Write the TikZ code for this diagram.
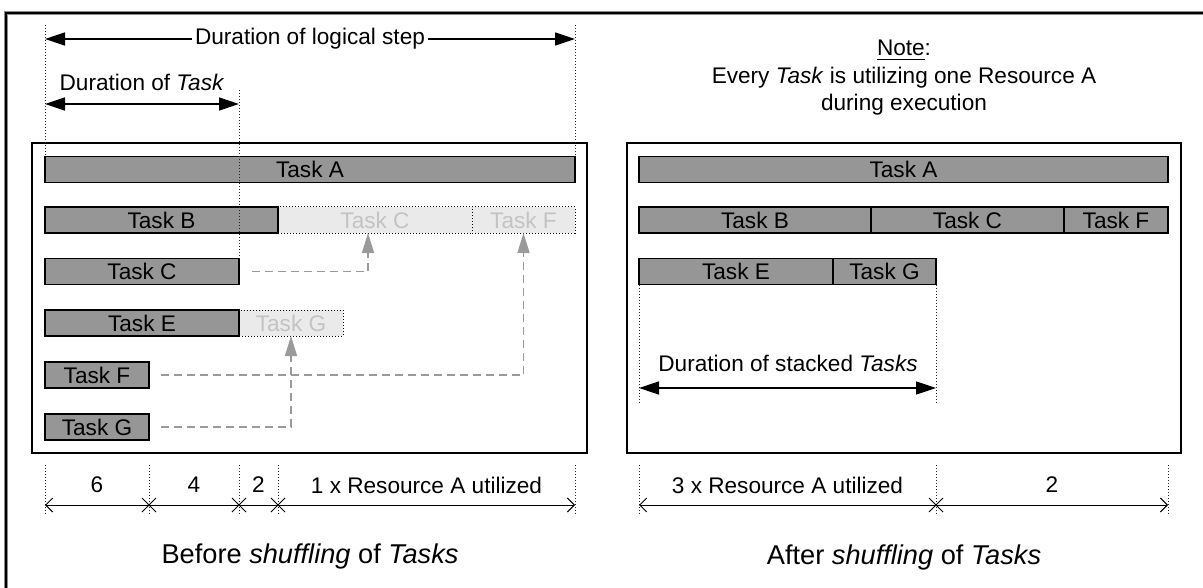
\documentclass[tikz,border=0pt]{standalone}
\usepackage{fontspec}
\setmainfont{Liberation Sans}
\usetikzlibrary{arrows.meta,calc,shapes.misc}
\definecolor{barfill}{HTML}{969696}
\definecolor{ghostfill}{HTML}{EAEAEA}
\definecolor{ghosttext}{HTML}{C3C3C3}
\definecolor{linkgray}{HTML}{9A9A9A}
\definecolor{framegray}{HTML}{8C8C8C}
\tikzset{
  bar/.style={draw=black, line width=0.75pt, fill=barfill, minimum height=13pt, inner sep=0pt, outer sep=0pt},
  ghost/.style={draw=black, line width=0.5pt, dash pattern=on 0.5pt off 1pt, fill=ghostfill, text=ghosttext, minimum height=13pt, inner sep=0pt, outer sep=0pt},
  panel/.style={draw=black, line width=1.2pt},
  guide/.style={draw=black!85, line width=0.5pt, dash pattern=on 0.5pt off 1pt},
  span/.style={draw=black, line width=0.75pt, {Triangle[length=10pt,width=6.5pt]}-{Triangle[length=10pt,width=6.5pt]}},
  link/.style={draw=linkgray, line width=0.75pt, dash pattern=on 4pt off 2.5pt, -{Triangle[length=10pt,width=6pt,fill=linkgray]}},
  ruler/.style={draw=black, line width=0.5pt, {Straight Barb[length=3.5pt,width=7pt]}-{Straight Barb[length=3.5pt,width=7pt]}},
  tick/.style={draw=black, line width=0.5pt, cross out, minimum size=6.5pt, inner sep=0pt},
  lbl/.style={inner sep=0pt},
  title/.style={font=\fontsize{13.6}{16}\selectfont},
}
\begin{document}
\begin{tikzpicture}[x=0.5pt, y=-0.5pt, font=\fontsize{11.3}{13.75}\selectfont]
\useasboundingbox (0,0) rectangle (1203,588);

% outer frame edge
\draw[line width=2pt, framegray] (6,600) -- (6,13) -- (1210,13);
\draw[line width=1pt, black] (6,600) -- (6,13) -- (1210,13);

% horizontal levels used by guides and rulers
\coordinate (y25) at (0,25);
\coordinate (y39) at (0,39);
\coordinate (y90) at (0,90);
\coordinate (y104) at (0,104);
\coordinate (y388) at (0,388);
\coordinate (y402) at (0,402);
\coordinate (y465) at (0,465);
\coordinate (y485) at (0,485);
\coordinate (y505) at (0,505);
\coordinate (y515) at (0,515);

% ---------------- left panel: before shuffling ----------------
\draw[panel] (32,143) rectangle (587,453);

\node[ghost, minimum width=97pt]   (gC) at (375,220)   {Task C};
\node[ghost, minimum width=51.5pt] (gF) at (523.5,220) {Task F};
\node[ghost, minimum width=52pt]   (gG) at (291,323)   {Task G};

\node[bar, minimum width=265pt]   (lA) at (310,169.5) {Task A};
\node[bar, minimum width=116.5pt] (lB) at (161.5,220) {Task B};
\node[bar, minimum width=97pt]    (lC) at (142,271.5) {Task C};
\node[bar, minimum width=97pt]    (lE) at (142,323)   {Task E};
\node[bar, minimum width=52pt]    (lF) at (97,375)    {Task F};
\node[bar, minimum width=52pt]    (lG) at (97,427)    {Task G};

% moves of the tasks into free slots
\coordinate (cC) at (368,0);
\draw[link] ([xshift=6.5pt]lC.east) -| (cC |- gC.south);
\draw[link] ([xshift=6pt]lF.east) -| (gF.south);
\draw[link] ([xshift=6pt]lG.east) -| (gG.south);

% guides above the bars
\draw[guide] (lA.north west |- y25) -- (lA.north west);
\draw[guide] (lA.north east |- y25) -- (lA.north east);
\draw[guide] (lC.north east |- y90) -- (lC.north east);

% duration spans
\coordinate (ls0) at (lA.west |- y39);
\coordinate (ls1) at (lA.east |- y39);
\draw[span] (ls0) -- (ls1) node[midway, fill=white, inner xsep=1.5pt, inner ysep=1pt] (lstep) {Duration of logical step};
\node[lbl] (ltask) at (142,82) {Duration of \textit{Task}};
\coordinate (lt0) at (lC.west |- y104);
\coordinate (lt1) at (lC.east |- y104);
\draw[span] (lt0) -- (lt1);

% ruler below the panel
\foreach \n/\a in {p0/lA.west, p1/lF.east, p2/lC.east, p3/lB.east, p4/lA.east}{
  \coordinate (\n) at (\a |- y505);
  \draw[guide] (\a |- y465) -- (\a |- y515);
}
\draw[ruler] (p0) -- (p4);
\node[tick] (k1) at (p1) {};
\node[tick] (k2) at (p2) {};
\node[tick] (k3) at (p3) {};
\node[lbl] (n6) at ($(p0 |- y485)!0.5!(p1 |- y485)$) {6};
\node[lbl] (n4) at ($(p1 |- y485)!0.5!(p2 |- y485)$) {4};
\node[lbl] (n2) at ($(p2 |- y485)!0.5!(p3 |- y485)$) {2};
\node[lbl] (n1) at ($(p3 |- y485)!0.5!(p4 |- y485)$) {1 x Resource A utilized};

\node[title] (before) at (310,556) {Before \textit{shuffling} of \textit{Tasks}};

% ---------------- right panel: after shuffling ----------------
\node[align=center] (note) at (904,78) {\underline{Note}:\\Every \textit{Task} is utilizing one Resource A\\during execution};

\draw[panel] (627,143) rectangle (1181,453);

\node[bar, minimum width=264.5pt] (rA) at (903.5,169.5) {Task A};
\node[bar, minimum width=116pt]   (rB) at (755,220)     {Task B};
\node[bar, minimum width=96.5pt]  (rC) at (967.5,220)   {Task C};
\node[bar, minimum width=52pt]    (rF) at (1116,220)    {Task F};
\node[bar, minimum width=97pt]    (rE) at (736,271.5)   {Task E};
\node[bar, minimum width=51.5pt]  (rG) at (884.5,271.5) {Task G};

\draw[guide] (rE.south west) -- (rE.south west |- y402);
\draw[guide] (rG.south east) -- (rG.south east |- y402);
\node[lbl] (rstack) at (788,363) {Duration of stacked \textit{Tasks}};
\coordinate (rs0) at (rE.west |- y388);
\coordinate (rs1) at (rG.east |- y388);
\draw[span] (rs0) -- (rs1);

\foreach \n/\a in {q0/rE.west, q1/rG.east, q2/rA.east}{
  \coordinate (\n) at (\a |- y505);
  \draw[guide] (\a |- y465) -- (\a |- y515);
}
\draw[ruler] (q0) -- (q2);
\node[tick] (k4) at (q1) {};
\node[lbl] (m3) at ($(q0 |- y485)!0.5!(q1 |- y485)$) {3 x Resource A utilized};
\node[lbl] (m2) at ($(q1 |- y485)!0.5!(q2 |- y485)$) {2};

\node[title] (after) at (904,557) {After \textit{shuffling} of \textit{Tasks}};
\end{tikzpicture}
\end{document}
